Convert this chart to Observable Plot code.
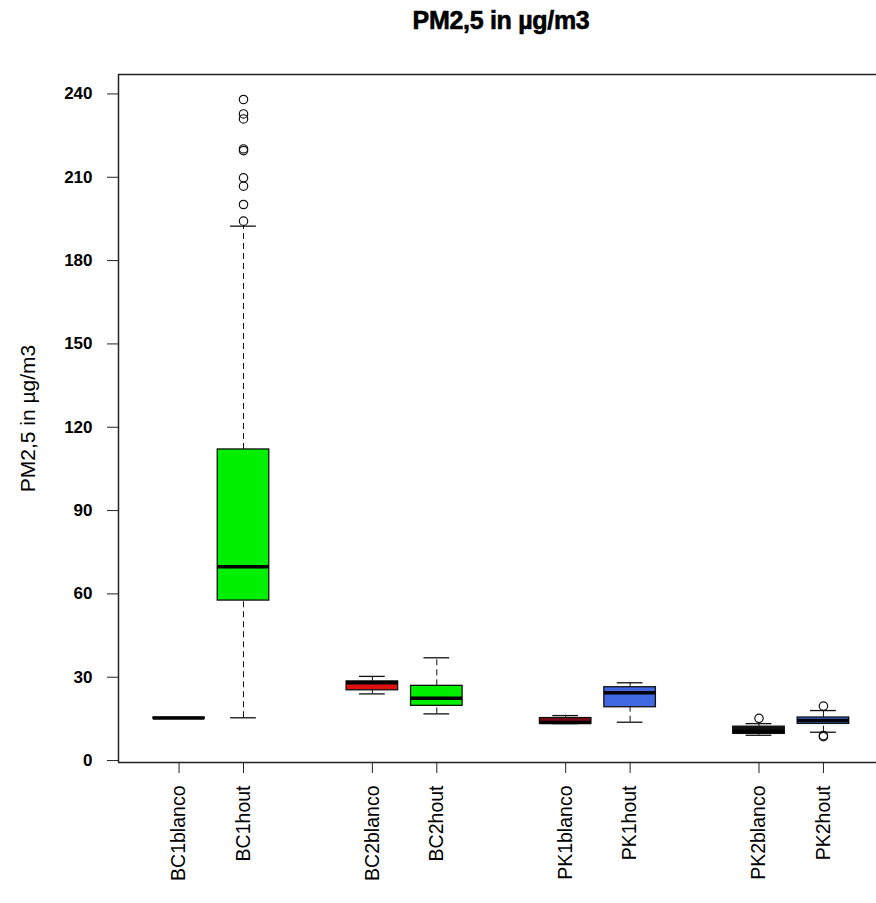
<!DOCTYPE html>
<html>
<head>
<meta charset="utf-8">
<script src="https://cdn.jsdelivr.net/npm/d3@7"></script>
<script src="https://cdn.jsdelivr.net/npm/@observablehq/plot@0.6"></script>
<style>
  body { margin: 0; background: #fff; overflow: hidden; font-family: "Liberation Sans", Arial, sans-serif; }
  #title { height: 40px; width: 766px; margin-left: 118px; text-align: center; font-weight: bold; font-size: 25px; line-height: 40px; color: #000; white-space: nowrap; -webkit-text-stroke: 0.6px #000; letter-spacing: -0.3px; }
</style>
</head>
<body>
<div id="title">PM2,5 in µg/m3</div>
<div id="chart"></div>
<script>
// PM2.5 concentrations (µg/m3) per measurement series: box-plot summaries
const categories   = ["BC1blanco", "BC1hout", "BC2blanco", "BC2hout", "PK1blanco", "PK1hout", "PK2blanco", "PK2hout"];
const whiskerLow   = [15.2, 15.4, 24.0, 16.8, 13.3, 13.8,  9.1, 10.2];
const quartile1    = [15.2, 57.6, 25.3, 19.7, 13.3, 19.2,  9.6, 13.2];
const medians      = [15.3, 69.8, 28.0, 22.4, 13.7, 24.4, 10.5, 14.4];
const quartile3    = [15.4, 112.0, 28.5, 26.9, 15.3, 26.4, 12.2, 15.5];
const whiskerHigh  = [15.4, 192.4, 30.3, 37.0, 16.2, 28.0, 13.3, 18.0];
const outliers     = [
  [],
  [238.0, 232.8, 231.0, 220.2, 219.6, 209.8, 206.8, 200.2, 194.2],
  [], [], [], [],
  [15.2],
  [19.6, 9.0, 8.6]
];
const yTicks = [0, 30, 60, 90, 120, 150, 180, 210, 240];

// box fill colours, one per series
const boxFills = ["#e01010", "#00f000", "#e01010", "#00f000", "#7a0a14", "#4169e1", "#111111", "#4169e1"];

// series are drawn in pairs with an empty slot between pairs
const slot = i => i + Math.floor(i / 2) + 1;

const boxes = categories.map((name, i) => ({
  name,
  pos: slot(i),
  lo: whiskerLow[i],
  q1: quartile1[i],
  med: medians[i],
  q3: quartile3[i],
  hi: whiskerHigh[i],
  fill: boxFills[i]
}));
const outlierRows = boxes.flatMap((b, i) => outliers[i].map(value => ({pos: b.pos, value})));
const nameAt = new Map(boxes.map(b => [b.pos, b.name]));

const xLo = 0.06, xHi = 11.94;
const yLo = -0.7, yHi = 247;
const halfBox = 0.4, halfStaple = 0.2;

const chart = Plot.plot({
  width: 876,
  height: 863,
  marginTop: 34,
  marginBottom: 141,
  marginLeft: 118,
  marginRight: 0,
  style: {fontFamily: "'Liberation Sans', Arial, sans-serif", background: "white", color: "#000"},
  x: {domain: [xLo, xHi], range: [118, 883.5]},
  y: {domain: [yLo, yHi]},
  marks: [
    // plot frame
    Plot.ruleY([yLo, yHi], {stroke: "#222", strokeWidth: 1.5}),
    Plot.ruleX([xLo], {stroke: "#222", strokeWidth: 1.5}),
    // axes
    Plot.axisY({ticks: yTicks, tickSize: 11, tickPadding: 15, fontSize: 17, fontWeight: "bold", label: null, stroke: "#222"}),
    Plot.axisX({ticks: boxes.map(b => b.pos), tickSize: 11, tickPadding: 12, tickRotate: -90,
      tickFormat: p => nameAt.get(p), fontSize: 19.5, label: null, stroke: "#222"}),
    Plot.text(["PM2,5 in µg/m3"], {frameAnchor: "left", dx: -90, rotate: -90, fontSize: 21,
      textAnchor: "middle", lineAnchor: "middle"}),
    // whiskers
    Plot.ruleX(boxes, {x: "pos", y1: "q3", y2: "hi", stroke: "#111", strokeDasharray: "6,4"}),
    Plot.ruleX(boxes, {x: "pos", y1: "lo", y2: "q1", stroke: "#111", strokeDasharray: "6,4"}),
    Plot.ruleY(boxes, {y: "hi", x1: d => d.pos - halfStaple, x2: d => d.pos + halfStaple, stroke: "#111", strokeWidth: 1.3}),
    Plot.ruleY(boxes, {y: "lo", x1: d => d.pos - halfStaple, x2: d => d.pos + halfStaple, stroke: "#111", strokeWidth: 1.3}),
    // boxes and medians
    Plot.rect(boxes, {x1: d => d.pos - halfBox, x2: d => d.pos + halfBox, y1: "q1", y2: "q3",
      fill: d => d.fill, stroke: "#111", strokeWidth: 1.3}),
    Plot.ruleY(boxes, {y: "med", x1: d => d.pos - halfBox, x2: d => d.pos + halfBox, stroke: "#000", strokeWidth: 3.5}),
    // outliers
    Plot.dot(outlierRows, {x: "pos", y: "value", r: 4.2, stroke: "#111", strokeWidth: 1.2, fill: "none"})
  ]
});
document.getElementById("chart").appendChild(chart);
</script>
</body>
</html>
